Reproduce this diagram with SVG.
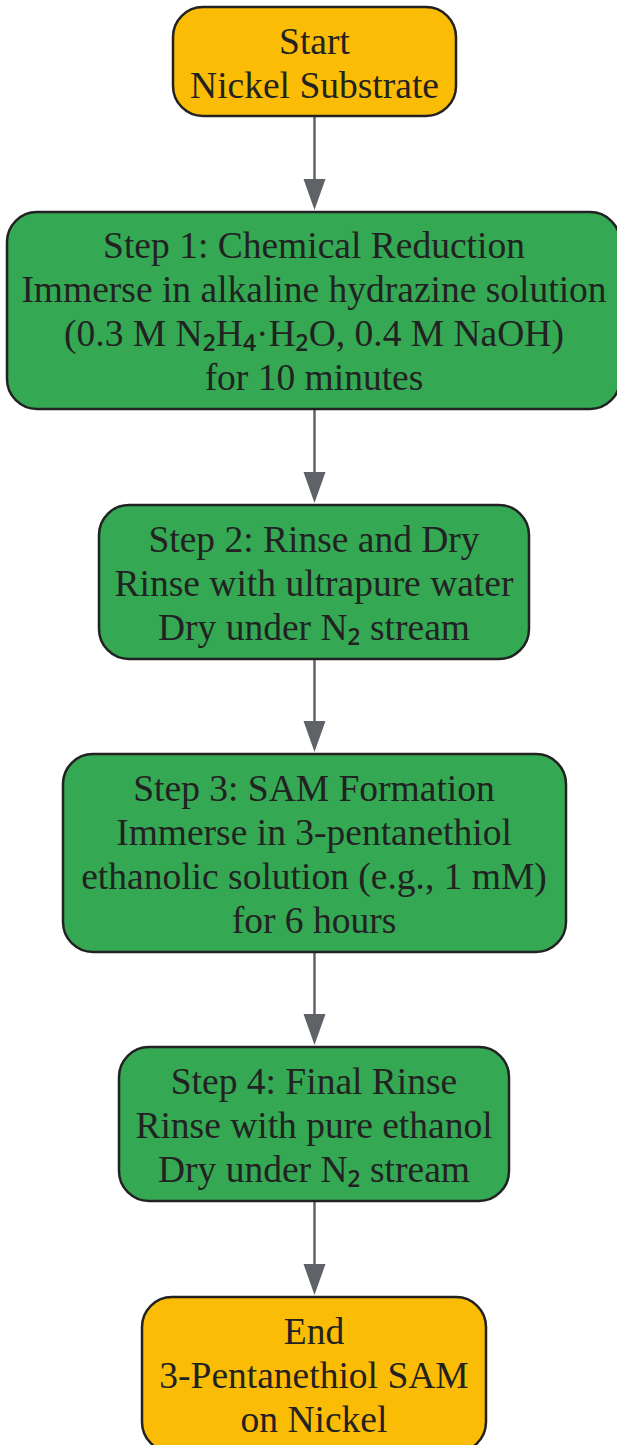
<svg xmlns="http://www.w3.org/2000/svg" width="617" height="1445" viewBox="0 0 617 1445">
<style>
.start{fill:#FBBC05;stroke:#222;stroke-width:2.5}
.step{fill:#34A853;stroke:#222;stroke-width:2.5}
text{font-family:"Liberation Serif","DejaVu Serif",serif;font-size:37.5px;fill:#222;text-anchor:middle}
.sub{font-family:"Noto Sans","DejaVu Sans",sans-serif}
.edge{stroke:#5F6368;stroke-width:2.5;fill:none}
.head{fill:#5F6368}
</style>
<g id="edges">
<path class="edge" d="M314.5,116 V179"/><path class="head" d="M303.5,179 L325.5,179 L314.5,210 Z"/>
<path class="edge" d="M314.5,409 V472"/><path class="head" d="M303.5,472 L325.5,472 L314.5,503 Z"/>
<path class="edge" d="M314.5,659 V721"/><path class="head" d="M303.5,721 L325.5,721 L314.5,752 Z"/>
<path class="edge" d="M314.5,952 V1014"/><path class="head" d="M303.5,1014 L325.5,1014 L314.5,1045 Z"/>
<path class="edge" d="M314.5,1201 V1264"/><path class="head" d="M303.5,1264 L325.5,1264 L314.5,1295 Z"/>
</g>
<g id="start">
<rect class="start" x="173" y="7" width="283" height="109" rx="30"/>
<text x="314.5" y="54">Start</text>
<text x="314.5" y="98">Nickel Substrate</text>
</g>
<g id="step1">
<rect class="step" x="7" y="212" width="613" height="197" rx="30"/>
<text x="314" y="258">Step 1: Chemical Reduction</text>
<text x="314" y="302">Immerse in alkaline hydrazine solution</text>
<text x="314" y="346">(0.3 M N<tspan class="sub">₂</tspan>H<tspan class="sub">₄</tspan>·H<tspan class="sub">₂</tspan>O, 0.4 M NaOH)</text>
<text x="314" y="390">for 10 minutes</text>
</g>
<g id="step2">
<rect class="step" x="99" y="505" width="430" height="154" rx="30"/>
<text x="314" y="552">Step 2: Rinse and Dry</text>
<text x="314" y="596">Rinse with ultrapure water</text>
<text x="314" y="640">Dry under N<tspan class="sub">₂</tspan> stream</text>
</g>
<g id="step3">
<rect class="step" x="63" y="754" width="503" height="198" rx="30"/>
<text x="314" y="801">Step 3: SAM Formation</text>
<text x="314" y="845">Immerse in 3-pentanethiol</text>
<text x="314" y="889">ethanolic solution (e.g., 1 mM)</text>
<text x="314" y="933">for 6 hours</text>
</g>
<g id="step4">
<rect class="step" x="119" y="1047" width="390" height="154" rx="30"/>
<text x="314" y="1094">Step 4: Final Rinse</text>
<text x="314" y="1138">Rinse with pure ethanol</text>
<text x="314" y="1182">Dry under N<tspan class="sub">₂</tspan> stream</text>
</g>
<g id="end">
<rect class="start" x="142" y="1297" width="344" height="155" rx="30"/>
<text x="314" y="1344">End</text>
<text x="314" y="1388">3-Pentanethiol SAM</text>
<text x="314" y="1432">on Nickel</text>
</g>
</svg>
